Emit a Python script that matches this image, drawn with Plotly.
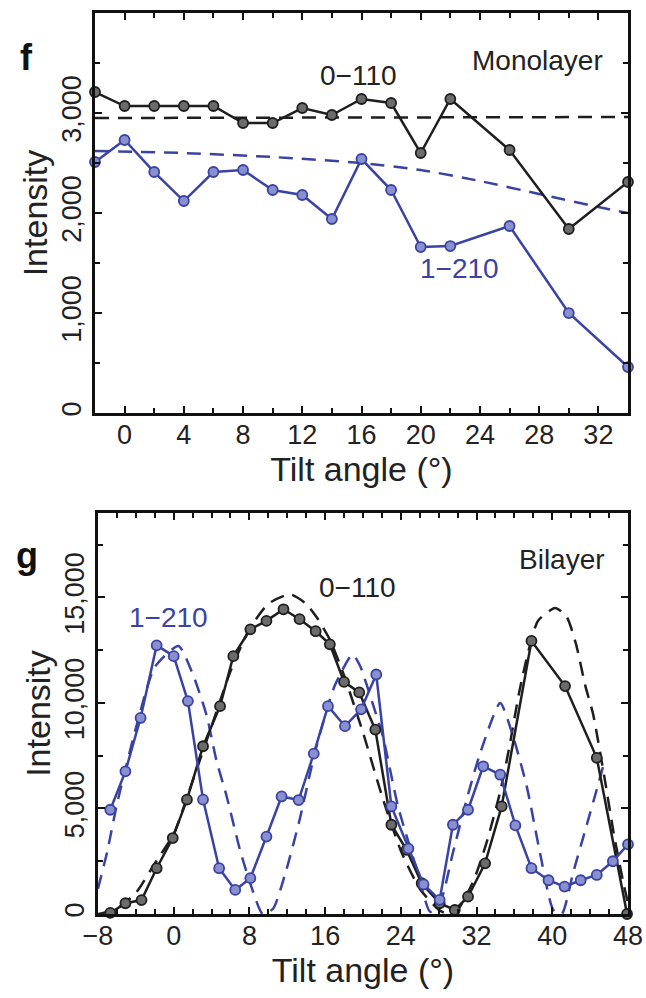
import plotly.graph_objects as go

# ---------------- data: panel f (monolayer) ----------------
mono_angle = [-2, 0, 2, 4, 6, 8, 10, 12, 14, 16, 18, 20, 22, 26, 30, 34]
mono_0110 = [3210, 3070, 3070, 3070, 3070, 2900, 2900, 3050, 2980, 3140, 3100, 2600, 3140, 2630, 1840, 2310]
mono_1210 = [2510, 2730, 2410, 2120, 2410, 2430, 2230, 2180, 1940, 2540, 2230, 1660, 1670, 1870, 1000, 460]
mono_fit_0110_angle = [-2, 34]
mono_fit_0110 = [2950, 2960]
mono_fit_1210_angle = [-2, 4, 10, 16, 20, 24, 28, 32, 34]
mono_fit_1210 = [2620, 2600, 2560, 2500, 2430, 2320, 2190, 2060, 2000]

# ---------------- data: panel g (bilayer) ----------------
bi_1210_angle = [-6.7, -5.1, -3.5, -1.8, 0.0, 1.5, 3.1, 4.8, 6.5, 8.1, 9.8, 11.4, 13.2, 14.8, 16.3,
                 18.1, 19.8, 21.4, 23.0, 24.8, 26.4, 28.1, 29.5, 31.1, 32.7, 34.5, 36.1, 37.8,
                 39.6, 41.3, 43.0, 44.7, 46.4, 48.0]
bi_1210 = [4940, 6760, 9290, 12730, 12220, 10090, 5420, 2170, 1140, 1700, 3670, 5570, 5400, 7600, 9850,
           8900, 9700, 11350, 5100, 3100, 1400, 670, 4230, 4940, 7000, 6600, 4200, 2170,
           1600, 1300, 1600, 1850, 2500, 3300]
bi_0110_angle = [-6.7, -5.1, -3.4, -1.8, -0.1, 1.4, 3.1, 4.9, 6.3, 8.1, 9.8, 11.6, 13.3, 15.0, 16.5,
                 18.0, 19.6, 21.3, 23.0, 24.6, 26.2, 28.1, 29.7, 31.1, 32.9, 34.65, 37.8, 41.35,
                 44.7, 47.9]
bi_0110 = [50, 510, 660, 2170, 3600, 5420, 7950, 9850, 12220, 13490, 13890, 14440, 13970, 13400, 12780,
           11000, 10500, 8740, 4230, 3040, 1460, 510, 190, 820, 2400, 5100, 12940, 10800,
           7400, 0]
bi_fit_0110_angle = [-8, -6, -4, -2, 0, 2, 4, 6, 8, 10, 12.3, 14, 15.2, 16.5, 18, 20, 22, 24, 26, 28,
                     29, 30, 31.7, 33, 34.5, 35.5, 36.5, 37.5, 38.5, 40.3, 41.5, 42.5, 43.5, 44.3,
                     45.5, 46.5, 47.5, 48]
bi_fit_0110 = [0, 250, 1000, 2400, 3800, 6300, 8900, 11500, 13500, 14700, 15150, 14700, 14000, 13000,
               11300, 8600, 5600, 3000, 1200, 200, 0, 200, 1600, 3300, 5800, 8000, 10500, 12500,
               13900, 14500, 14100, 12800, 10800, 9500, 6500, 3800, 1500, 500]
bi_fit_1210_angle = [-8, -7, -6, -4, -2, 0.5, 2.1, 3.5, 4.5, 5.6, 7.0, 8.2, 9.4, 10.5, 11.9, 13.3, 15,
                     17, 18.9, 19.7, 21, 22.1, 23.7, 25.7, 27.1, 28.2, 29.5, 31, 32.4, 34.5, 35.8,
                     37.3, 38.7, 40.1, 41, 42.2, 43.5, 44.7, 45.5]
bi_fit_1210 = [1200, 3000, 5200, 8800, 11700, 12700, 11270, 9370, 7300, 5570, 3040, 1300, 0, 250, 2090,
               4460, 7800, 10800, 12300, 11750, 10000, 8420, 5100, 2090, 100, 600, 2900, 5500, 7650,
               10000, 8500, 6050, 2900, 200, 0, 1950, 4000, 5900, 7200]

mono_yticks = [0, 1000, 2000, 3000]
mono_yticktext = ["0", "1,000", "2,000", "3,000"]
mono_xticks = [0, 4, 8, 12, 16, 20, 24, 28, 32]
bi_yticks = [0, 5000, 10000, 15000]
bi_yticktext = ["0", "5,000", "10,000", "15,000"]
bi_xticks = [-8, 0, 8, 16, 24, 32, 40, 48]
bi_xticktext = ["\u22128", "0", "8", "16", "24", "32", "40", "48"]

BLACK = "#1e1e1e"
BLUE = "#3843a4"
FONT = "Liberation Sans, Arial, sans-serif"

fig = go.Figure()


def add_series(x, y, color, fill, xa, ya, dashed=False):
    if dashed:
        fig.add_trace(go.Scatter(x=x, y=y, mode="lines", xaxis=xa, yaxis=ya,
                                 line=dict(color=color, width=2.5, dash="14px,9px", shape="spline", smoothing=0.6),
                                 showlegend=False, hoverinfo="skip"))
    else:
        fig.add_trace(go.Scatter(x=x, y=y, mode="lines+markers", xaxis=xa, yaxis=ya,
                                 line=dict(color=color, width=2.5),
                                 marker=dict(size=10, color=fill, line=dict(color=color, width=1.8)),
                                 cliponaxis=False, showlegend=False))


# panel f
add_series(mono_fit_0110_angle, mono_fit_0110, BLACK, None, "x", "y", dashed=True)
add_series(mono_fit_1210_angle, mono_fit_1210, BLUE, None, "x", "y", dashed=True)
add_series(mono_angle, mono_0110, BLACK, "#6b6b6b", "x", "y")
add_series(mono_angle, mono_1210, BLUE, "#8a90cf", "x", "y")

# panel g
add_series(bi_fit_0110_angle, bi_fit_0110, BLACK, None, "x2", "y2", dashed=True)
add_series(bi_fit_1210_angle, bi_fit_1210, BLUE, None, "x2", "y2", dashed=True)
add_series(bi_0110_angle, bi_0110, BLACK, "#6b6b6b", "x2", "y2")
add_series(bi_1210_angle, bi_1210, BLUE, "#8a90cf", "x2", "y2")

axis_common = dict(showline=True, linewidth=3, linecolor="#111", mirror="ticks", ticks="inside",
                   ticklen=7, tickwidth=2, tickcolor="#111", showgrid=False, zeroline=False,
                   automargin=False,
                   tickfont=dict(family=FONT, size=27, color="#222"))
minor_common = dict(ticks="inside", ticklen=5, tickwidth=2, tickcolor="#111")
title_font = dict(family=FONT, size=34, color="#222")

fig.update_layout(
    width=646, height=998,
    margin=dict(l=95, r=18, t=13, b=84),
    paper_bgcolor="white", plot_bgcolor="white",
    font=dict(family=FONT, color="#222"),
    xaxis=dict(domain=[0, 1], range=[-2, 34], tickvals=mono_xticks, anchor="y",
               ticklabelstandoff=-4,
               minor=dict(dtick=2, tick0=0, **minor_common),
               title=dict(text="Tilt angle (°)", font=title_font, standoff=0),
               **axis_common),
    yaxis=dict(domain=[0.556, 1], range=[0, 4000], tickvals=mono_yticks, ticktext=mono_yticktext,
               tickangle=-90, anchor="x", ticklabelstandoff=0,
               minor=dict(dtick=500, tick0=0, **minor_common),
               title=dict(text="Intensity", font=title_font, standoff=0),
               **axis_common),
    xaxis2=dict(domain=[0.0056, 1], range=[-8, 48], tickvals=bi_xticks, ticktext=bi_xticktext, anchor="y2",
                ticklabelstandoff=-4,
                minor=dict(dtick=2, tick0=0, **minor_common),
                title=dict(text="Tilt angle (°)", font=title_font, standoff=6),
                **axis_common),
    yaxis2=dict(domain=[0, 0.445], range=[0, 19000], tickvals=bi_yticks, ticktext=bi_yticktext,
                tickangle=-90, anchor="x2", ticklabelstandoff=0,
                minor=dict(dtick=2500, tick0=0, **minor_common),
                title=dict(text="Intensity", font=title_font, standoff=0),
                **axis_common),
)

ann_font = dict(family=FONT, size=28, color="#222")
fig.add_annotation(x=15.8, y=3380, xref="x", yref="y", text="0\u2212110", showarrow=False, font=ann_font)
fig.add_annotation(x=22.6, y=1450, xref="x", yref="y", text="1\u2212210", showarrow=False,
                   font=dict(family=FONT, size=28, color=BLUE))
fig.add_annotation(x=27.9, y=3530, xref="x", yref="y", text="Monolayer", showarrow=False, font=ann_font)
fig.add_annotation(x=-0.6, y=14050, xref="x2", yref="y2", text="1\u2212210", showarrow=False,
                   font=dict(family=FONT, size=28, color=BLUE))
fig.add_annotation(x=19.4, y=15450, xref="x2", yref="y2", text="0\u2212110", showarrow=False, font=ann_font)
fig.add_annotation(x=41.0, y=16800, xref="x2", yref="y2", text="Bilayer", showarrow=False, font=ann_font)
fig.add_annotation(x=-0.1276, y=0.951, xref="paper", yref="paper", text="<b>f</b>", showarrow=False,
                   xanchor="center", yanchor="middle", font=dict(family=FONT, size=36, color="#111"))
fig.add_annotation(x=-0.1276, y=0.398, xref="paper", yref="paper", text="<b>g</b>", showarrow=False,
                   xanchor="center", yanchor="middle", font=dict(family=FONT, size=36, color="#111"))

fig.write_html("out.html", config={"displayModeBar": False},
               post_script="document.body.style.margin='0';document.body.style.overflow='hidden';")
